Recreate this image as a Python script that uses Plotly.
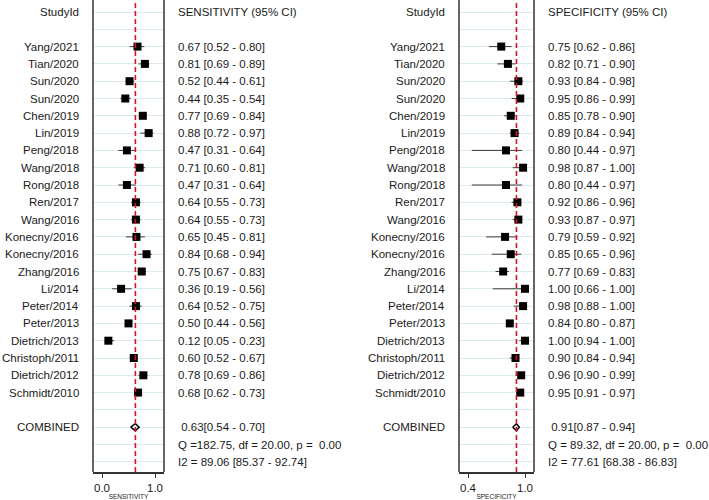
import plotly.graph_objects as go

studies = ["Yang/2021", "Tian/2020", "Sun/2020", "Sun/2020", "Chen/2019", "Lin/2019", "Peng/2018",
           "Wang/2018", "Rong/2018", "Ren/2017", "Wang/2016", "Konecny/2016", "Konecny/2016",
           "Zhang/2016", "Li/2014", "Peter/2014", "Peter/2013", "Dietrich/2013", "Christoph/2011",
           "Dietrich/2012", "Schmidt/2010"]
sens = [0.67, 0.81, 0.52, 0.44, 0.77, 0.88, 0.47, 0.71, 0.47, 0.64, 0.64, 0.65, 0.84, 0.75, 0.36, 0.64, 0.50, 0.12, 0.60, 0.78, 0.68]
sens_lo = [0.52, 0.69, 0.44, 0.35, 0.69, 0.72, 0.31, 0.60, 0.31, 0.55, 0.55, 0.45, 0.68, 0.67, 0.19, 0.52, 0.44, 0.05, 0.52, 0.69, 0.62]
sens_hi = [0.80, 0.89, 0.61, 0.54, 0.84, 0.97, 0.64, 0.81, 0.64, 0.73, 0.73, 0.81, 0.94, 0.83, 0.56, 0.75, 0.56, 0.23, 0.67, 0.86, 0.73]
spec = [0.75, 0.82, 0.93, 0.95, 0.85, 0.89, 0.80, 0.98, 0.80, 0.92, 0.93, 0.79, 0.85, 0.77, 1.00, 0.98, 0.84, 1.00, 0.90, 0.96, 0.95]
spec_lo = [0.62, 0.71, 0.84, 0.86, 0.78, 0.84, 0.44, 0.87, 0.44, 0.86, 0.87, 0.59, 0.65, 0.69, 0.66, 0.88, 0.80, 0.94, 0.84, 0.90, 0.91]
spec_hi = [0.86, 0.90, 0.98, 0.99, 0.90, 0.94, 0.97, 1.00, 0.97, 0.96, 0.97, 0.92, 0.96, 0.83, 1.00, 1.00, 0.87, 1.00, 0.94, 0.99, 0.97]

sens_comb = [0.63, 0.54, 0.70]
spec_comb = [0.91, 0.87, 0.94]
sens_q = "Q =182.75, df = 20.00, p =  0.00"
sens_i2 = "I2 = 89.06 [85.37 - 92.74]"
spec_q = "Q = 89.32, df = 20.00, p =  0.00"
spec_i2 = "I2 = 77.61 [68.38 - 86.83]"

sens_ticks = [0.0, 1.0]
sens_ticktext = ["0.0", "1.0"]
spec_ticks = [0.4, 1.0]
spec_ticktext = ["0.4", "1.0"]

W, H = 709, 500


def px_x(px):
    return px / W


def px_y(py):
    return 1 - py / H


rows = list(range(2, 2 + len(studies)))
ROW_COMB, ROW_Q, ROW_I2 = 24, 25, 26
FONT = "Liberation Sans, Arial, sans-serif"
TXT = "#1a1a1a"
FS = 11.5

fig = go.Figure()

panels = [
    dict(xa="x", ya="y", val=sens, lo=sens_lo, hi=sens_hi, comb=sens_comb, q=sens_q, i2=sens_i2,
         head="SENSITIVITY (95% CI)", label_x=80, text_x=177),
    dict(xa="x2", ya="y2", val=spec, lo=spec_lo, hi=spec_hi, comb=spec_comb, q=spec_q, i2=spec_i2,
         head="SPECIFICITY (95% CI)", label_x=446, text_x=547),
]

annotations = []
shapes = []
for p in panels:
    xs, ys = [], []
    for r, lo, hi in zip(rows, p["lo"], p["hi"]):
        xs += [lo, hi, None]
        ys += [r, r, None]
    fig.add_trace(go.Scatter(x=xs, y=ys, mode="lines", line=dict(color="#3a3a3a", width=1),
                             xaxis=p["xa"], yaxis=p["ya"], hoverinfo="skip", showlegend=False))
    fig.add_trace(go.Scatter(x=p["val"], y=rows, mode="markers",
                             marker=dict(symbol="square", size=8, color="black"),
                             xaxis=p["xa"], yaxis=p["ya"], showlegend=False))
    est, clo, chi = p["comb"]
    h = 0.2
    fig.add_trace(go.Scatter(x=[clo, est, chi, est, clo], y=[ROW_COMB, ROW_COMB - h, ROW_COMB, ROW_COMB + h, ROW_COMB],
                             mode="lines", line=dict(color="black", width=1.5),
                             xaxis=p["xa"], yaxis=p["ya"], showlegend=False, hoverinfo="skip"))
    shapes.append(dict(type="line", xref=p["xa"], yref=p["ya"] + " domain", x0=est, x1=est, y0=0, y1=1,
                       line=dict(color="#d0142c", width=1.6, dash="5px,3px"), layer="above"))
    for xd in (0, 1):
        shapes.append(dict(type="line", xref=p["xa"] + " domain", yref=p["ya"] + " domain", x0=xd, x1=xd,
                           y0=0, y1=1, line=dict(color="#333333", width=1.5)))

    def ann(x, r, s, anchor, ya=p["ya"]):
        annotations.append(dict(x=px_x(x), xref="paper", y=r, yref=ya, text=s, showarrow=False,
                                xanchor=anchor, yanchor="middle", borderpad=0,
                                font=dict(family=FONT, size=FS, color=TXT)))
    ann(p["label_x"], 0, "StudyId", "right")
    ann(p["text_x"], 0, p["head"], "left")
    for r, name, v, lo, hi in zip(rows, studies, p["val"], p["lo"], p["hi"]):
        ann(p["label_x"], r, name, "right")
        ann(p["text_x"], r, f"{v:.2f} [{lo:.2f} - {hi:.2f}]", "left")
    ann(p["label_x"], ROW_COMB, "COMBINED", "right")
    ann(p["text_x"], ROW_COMB, f"\u00a0{est:.2f}[{clo:.2f} - {chi:.2f}]", "left")
    ann(p["text_x"], ROW_Q, p["q"].replace("  ", "\u00a0 "), "left")
    ann(p["text_x"], ROW_I2, p["i2"], "left")

y_top_px, y_bot_px = 0, 472
row0_px, row_h = 12, 17.3
yr = [(y_bot_px - row0_px) / row_h, (y_top_px - row0_px) / row_h]
ydom = [px_y(y_bot_px), px_y(y_top_px)]


def xaxis(dom_px, rng, tv, tt, title, anchor):
    return dict(domain=[px_x(dom_px[0]), px_x(dom_px[1])], range=rng, tickvals=tv, ticktext=tt,
                showgrid=False, zeroline=False, showline=True, linecolor="#333333", linewidth=1.5,
                ticks="outside", ticklen=4, tickcolor="#333333", tickwidth=1,
                tickfont=dict(family=FONT, size=11.5, color=TXT), anchor=anchor,
                title=dict(text=title, font=dict(family=FONT, size=6.5, color=TXT), standoff=0))


def yaxis(anchor):
    return dict(domain=ydom, range=yr, tickvals=list(range(0, 27)), showticklabels=False, ticks="",
                showgrid=True, gridcolor="#dcecee", gridwidth=1, zeroline=False, showline=False, anchor=anchor)


lpx0, lpx1, lsc = 93, 164, 53.0
rpx0, rpx1, rsc = 459, 534, 95.0
fig.update_layout(
    width=W, height=H, margin=dict(l=0, r=0, t=0, b=0),
    paper_bgcolor="white", plot_bgcolor="white",
    xaxis=xaxis((lpx0, lpx1), [(lpx0 - 102) / lsc, (lpx1 - 102) / lsc], sens_ticks, sens_ticktext, "SENSITIVITY", "y"),
    yaxis=yaxis("x"),
    xaxis2=xaxis((rpx0, rpx1), [0.4 + (rpx0 - 468) / rsc, 0.4 + (rpx1 - 468) / rsc], spec_ticks, spec_ticktext, "SPECIFICITY", "y2"),
    yaxis2=yaxis("x2"),
    annotations=annotations, shapes=shapes,
)

fig.write_html("out.html", config={"displayModeBar": False},
               post_script="document.body.style.margin='0px';")
